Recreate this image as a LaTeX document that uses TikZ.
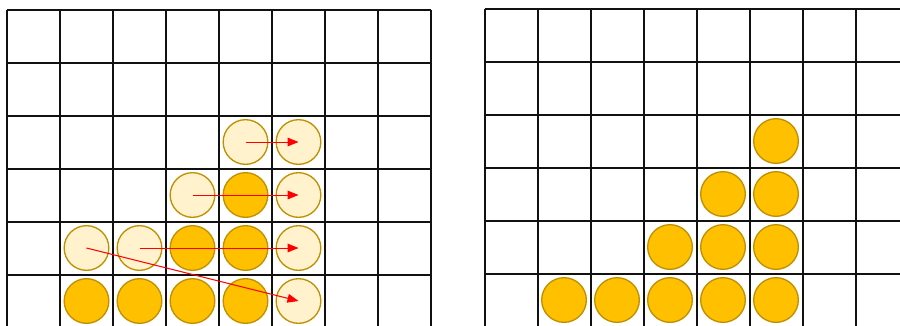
\documentclass[tikz,border=0pt]{standalone}
\usepackage{tikz}
\usetikzlibrary{arrows.meta}
\definecolor{gdline}{HTML}{111111}
\definecolor{gdouro}{HTML}{FFC000}
\definecolor{gdborda}{HTML}{BF9000}
\definecolor{gdclaro}{HTML}{FFF2CC}
\definecolor{gdseta}{HTML}{FF0000}
\tikzset{
  grade/.style={draw=gdline,line width=0.6mm},
  ficha/.style={circle,draw=gdborda,line width=0.4mm,fill=gdouro,minimum size=13.4mm,inner sep=0pt},
  fichanova/.style={ficha,fill=gdclaro},
  seta/.style={draw=gdseta,line width=0.3mm,-{Triangle[length=3.3mm,width=2.6mm]}},
}

\begin{document}
\begin{tikzpicture}[x=0.3mm,y=-0.3mm]
  \useasboundingbox (0,0) rectangle (900,325);
  \clip (0,0) rectangle (900,325);
  % --- grade da esquerda: antes da queda
  \begin{scope}[shift={(7,9.5)}]
    \foreach \i in {0,...,8} \draw[grade] (53*\i,0) -- (53*\i,340);
    \foreach \j in {0,...,6} \draw[grade] (0,53*\j) -- (424,53*\j);
    \foreach \i/\j in {1/5,2/5,3/5,4/5,3/4,4/4,4/3}
      \node[ficha] (e-\i-\j) at (26.5+53*\i,26.5+53*\j) {};
    \foreach \i/\j in {4/2,5/2,3/3,5/3,1/4,2/4,5/4,5/5}
      \node[fichanova] (e-\i-\j) at (26.5+53*\i,26.5+53*\j) {};
    % deslocamentos
    \draw[seta] (e-4-2.center) -- (e-5-2.center);
    \draw[seta] (e-3-3.center) -- (e-5-3.center);
    \draw[seta] (e-2-4.center) -- (e-5-4.center);
    \draw[seta] (e-1-4.center) -- (e-5-5.center);
  \end{scope}
  % --- grade da direita: depois da queda
  \begin{scope}[shift={(484.5,8.5)}]
    \foreach \i in {0,...,8} \draw[grade] (53*\i,0) -- (53*\i,340);
    \foreach \j in {0,...,6} \draw[grade] (0,53*\j) -- (430,53*\j);
    \foreach \i/\j in {5/2,4/3,5/3,3/4,4/4,5/4,1/5,2/5,3/5,4/5,5/5}
      \node[ficha] (d-\i-\j) at (26.5+53*\i,26.5+53*\j) {};
  \end{scope}
\end{tikzpicture}
\end{document}
